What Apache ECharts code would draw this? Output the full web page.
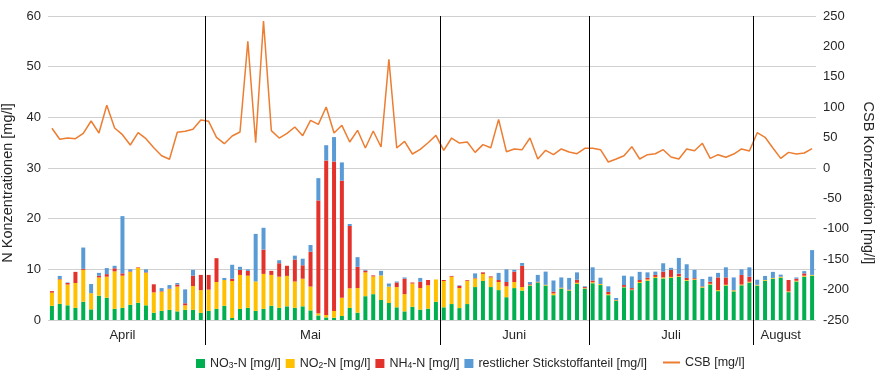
<!DOCTYPE html>
<html><head><meta charset="utf-8">
<script src="https://cdn.jsdelivr.net/npm/echarts@6/dist/echarts.min.js"></script>
<style>html,body{margin:0;padding:0;background:#fff}#c{width:875px;height:377px}</style>
</head><body><div id="c"></div>
<script>
const months = ['April', 'Mai', 'Juni', 'Juli', 'August'];
const monthCounts = [20, 30, 19, 21, 8];
const monthLabelIndex = [9, 33, 59, 79, 93];
const leftTicks = {min: 0, max: 60, interval: 10};
const rightTicks = {min: -250, max: 250, interval: 50};

const no3 = [2.8,3.2,2.9,2.4,3.6,2.1,4.8,4.4,2.2,2.4, 3.0,3.4,2.9,1.45,1.8,2.0,1.7,2.0,2.0,1.4,
  1.8,2.2,2.8,0.4,2.2,2.4,1.8,2.2,2.8,2.4, 2.7,2.4,2.7,1.9,0.9,0.5,0.45,0.8,2.4,1.45, 4.7,5.1,3.95,3.35,2.5,1.7,2.6,2.05,2.25,3.6,
  2.5,3.15,2.35,3.15,6.5,7.7,6.5,5.9,4.5,6.3, 5.8,6.8,7.4,6.8,4.9,6.2,5.8,7.1,6.2,
  7.25,6.9,4.9,3.8,6.45,5.9,7.3,7.75,8.3,8.2, 8.3,8.5,7.75,7.9,6.4,7.0,5.7,6.8,5.65,6.85,7.4,
  6.8,7.75,8.15,8.35,5.5,7.6,8.55,8.75];
const no2 = [2.6,4.8,4.1,4.9,6.3,3.2,3.6,4.15,7.4,6.35, 6.5,6.9,6.4,4.0,3.8,4.1,4.9,0.9,4.7,4.5,
  4.2,5.3,5.1,7.3,6.7,6.35,5.8,6.9,6.1,6.15, 6.0,5.2,5.45,4.7,0.4,0.5,1.35,3.6,3.85,4.85, 4.7,3.5,4.85,3.25,4.0,3.4,4.6,4.25,4.6,4.4,
  5.2,5.4,3.95,4.55,1.7,1.4,1.9,1.6,2.15,1.2, 0.7,0.1,0.05,0.1,0.35,0.1,0.1,0.25,0.1,
  0.2,0.2,0.2,0.1,0.1,0.1,0.2,0.25,0.2,0.2, 0.2,0.15,0.15,0.15,0.15,0.15,0.2,0.15,0.2,0.15,0.15,
  0.15,0.15,0.15,0.15,0.15,0.15,0.2,0.15];
const nh4 = [0.3,0.1,0.3,2.2,0.2,0,0.35,0.5,0.6,0.45, 0.1,0.1,0.1,1.6,0.1,0.1,0.4,0.4,2.05,3.0,
  2.9,4.7,0,0.45,1.0,0.95,0,4.8,0.8,2.65, 2.0,4.3,2.65,6.9,22.3,30.5,29.5,23.1,12.3,4.2, 0.35,0.2,0,0,0.9,3.05,0.2,1.25,1.05,0,
  0.2,0.15,0.45,0.15,0.1,0.3,0.2,0.4,0.85,2.05, 4.2,0.15,0.1,0.05,0.35,0.1,0.1,0.6,0.2,
  0.35,0,0.45,0.05,0.35,0.3,0.4,0.35,0.4,1.15, 1.4,0.5,0.4,0.2,0.1,0.4,2.5,1.45,0.05,1.9,1.0,
  0,0,0,0.05,2.25,0.4,0.45,0];
const restN = [0,0.6,0.1,0,4.2,1.8,0.55,1.2,0.5,11.3, 0.4,0,0.6,0,0.6,0.7,0.3,2.75,1.15,0,
  0,0,0.4,2.75,0.6,0.3,9.4,4.3,0,0.6, 0,0.8,1.3,1.3,4.4,3.0,4.8,3.6,0.4,1.9, 0.15,0,0.9,0.6,0.2,0.25,0,0.75,0,0,
  0,0,0.1,0,0.9,0,0,1.4,2.5,0.35, 0.55,0.45,1.35,2.6,2.2,2.0,2.3,1.45,0.15,
  2.6,1.25,1.1,0.4,1.85,2.3,1.6,1.05,0.65,1.65, 0.4,3.1,2.7,1.65,1.45,1.0,0.9,2.0,2.5,1.1,1.85,
  1.0,0.8,1.2,0.4,0,0.25,0.45,4.9];
const csb = [65.3,47.2,49.3,48.2,57,77.3,57.6,103.1,65.8,54.8, 37.8,58.1,48.2,33.4,20.2,14.3,58.7,60.3,63.6,79,
  76.8,50.5,40,52.6,59.2,208.3,41.6,241.8,61.4,49.3, 57,67.4,53.2,78.4,71.8,100.3,57.6,70.2,42.8,62,
  32.9,60.9,34.5,178.7,32.9,43.9,23,30.7,41.6,53.7, 29,49.3,41.1,42.8,25.7,38.4,33.4,80,26.8,31.3,
  30.1,49.3,14.8,29,21.9,31.3,26.3,23.5,32.4,32.4, 30.1,9.9,14.8,20.2,35.1,14.8,21.9,23.5,30.1,18.1,
  14.8,31.3,28.5,40.6,15.9,21.9,17.6,23,31.3,27.9, 58.1,50.5,33,15.9,25.7,23,24.7,31.8];

const seriesNames = ['NO3-N [mg/l]', 'NO2-N [mg/l]', 'NH4-N [mg/l]', 'restlicher Stickstoffanteil [mg/l]', 'CSB [mg/l]'];
const colors = ['#00b050', '#ffc000', '#e3322b', '#5b9bd5', '#ed7d31'];
const FONT = 'Liberation Sans, Arial, sans-serif';

// build categories from months
const categories = [];
const monthStarts = [];
months.forEach((m, mi) => {
  monthStarts.push(categories.length);
  for (let k = 0; k < monthCounts[mi]; k++) categories.push(m + '|' + (k + 1));
});
const labelSet = new Set(monthLabelIndex);

const legendFmt = name => {
  if (name === 'NO3-N [mg/l]') return 'NO{s|3}-N [mg/l]';
  if (name === 'NO2-N [mg/l]') return 'NO{s|2}-N [mg/l]';
  if (name === 'NH4-N [mg/l]') return 'NH{s|4}-N [mg/l]';
  return name;
};
const legendText = {color: '#262626', fontSize: 12.5, fontFamily: FONT,
  rich: {s: {fontSize: 8.5, verticalAlign: 'bottom', lineHeight: 9, padding: [5, 0, 0, 0], color: '#262626', fontFamily: FONT}}};

const barData = [no3, no2, nh4, restN];
const series = barData.map((d, i) => ({
  name: seriesNames[i], type: 'bar', stack: 'N', data: d, barWidth: 4,
  itemStyle: {color: colors[i]}, animation: false
}));
series.push({
  name: seriesNames[4], type: 'line', yAxisIndex: 1, data: csb, symbol: 'none', showSymbol: false,
  lineStyle: {color: colors[4], width: 1.5}, itemStyle: {color: colors[4]}, animation: false, z: 4
});
// month separators at category boundaries
series.push({
  name: 'sep', type: 'custom', clip: false, z: 5, silent: true,
  data: monthStarts.slice(1).map(i => [i, leftTicks.min]),
  encode: {x: 0, y: 1},
  renderItem: (params, api) => {
    const idx = api.value(0);
    const top = api.coord([idx, leftTicks.max]);
    const bot = api.coord([idx, leftTicks.min]);
    const w = api.size([1, 0])[0];
    const x = Math.round(top[0] - w / 2) + 0.5;
    return {type: 'line', shape: {x1: x, y1: top[1], x2: x, y2: bot[1] + 25},
      style: {stroke: '#000', lineWidth: 1}};
  }
});

const chart = echarts.init(document.getElementById('c'), null, {renderer: 'canvas'});
chart.setOption({
  animation: false,
  textStyle: {fontFamily: FONT},
  grid: {left: 48, right: 59, top: 16, bottom: 57, containLabel: false, outerBoundsMode: 'none'},
  legend: [
    {data: seriesNames.slice(0, 4), left: 196, top: 356, padding: 0, itemWidth: 9, itemHeight: 9, itemGap: 5,
     icon: 'rect', formatter: legendFmt, textStyle: legendText},
    {data: [{name: seriesNames[4], icon: 'rect'}], left: 663, top: 356, padding: 0, itemWidth: 17, itemHeight: 2,
     textStyle: legendText}
  ],
  xAxis: {
    type: 'category', data: categories, boundaryGap: true,
    axisLine: {show: false}, axisTick: {show: false}, splitLine: {show: false},
    axisLabel: {interval: (i) => labelSet.has(i), formatter: v => v.split('|')[0], margin: 9,
      color: '#262626', fontSize: 13}
  },
  yAxis: [
    {type: 'value', min: leftTicks.min, max: leftTicks.max, interval: leftTicks.interval,
     name: 'N Konzentrationen [mg/l]', nameLocation: 'middle', nameRotate: 90, nameGap: 30,
     nameTextStyle: {color: '#262626', fontSize: 14.5, padding: [0, 30, 0, 0]},
     axisLabel: {color: '#262626', fontSize: 13, margin: 7},
     splitLine: {lineStyle: {color: '#d0d0d0', width: 1}}, axisLine: {show: false}, axisTick: {show: false}},
    {type: 'value', min: rightTicks.min, max: rightTicks.max, interval: rightTicks.interval, position: 'right',
     name: 'CSB Konzentration [mg/l]', nameLocation: 'middle', nameRotate: -90, nameGap: 44,
     nameTextStyle: {color: '#262626', fontSize: 14.5, padding: [0, 0, 0, 30]},
     axisLabel: {color: '#262626', fontSize: 13, margin: 7},
     splitLine: {show: false}, axisLine: {show: false}, axisTick: {show: false}}
  ],
  series: series
});
</script></body></html>
